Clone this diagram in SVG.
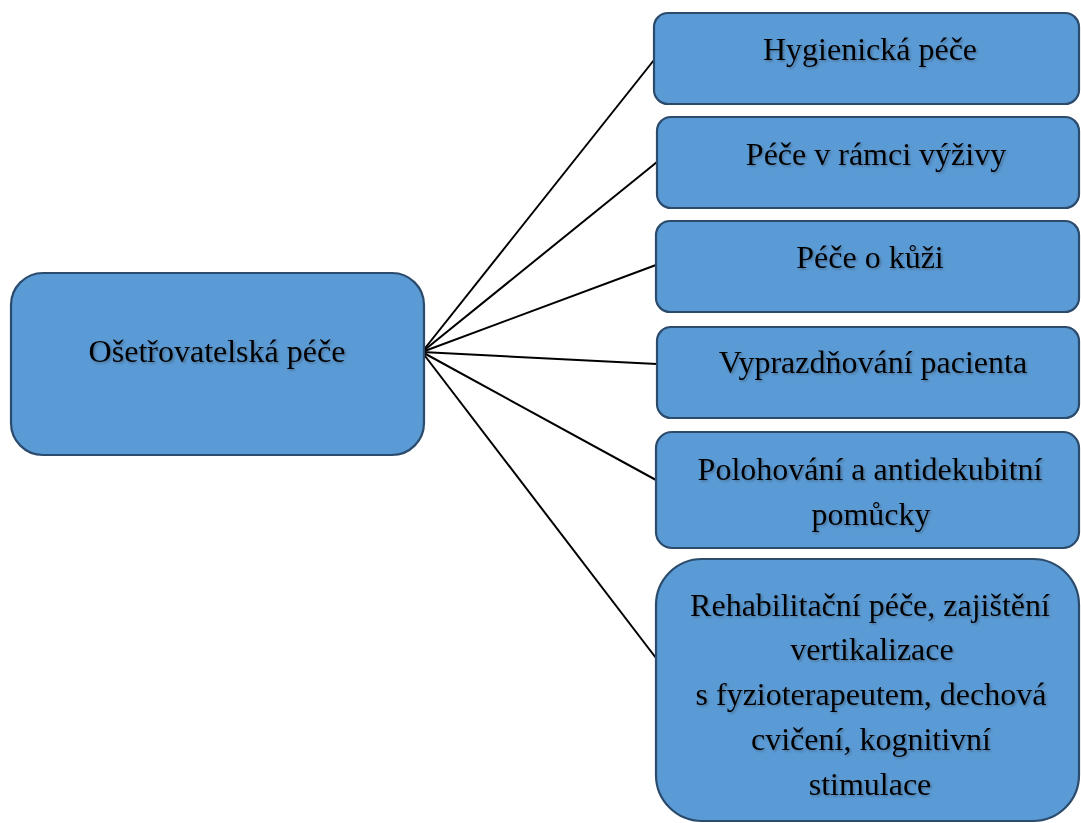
<svg xmlns="http://www.w3.org/2000/svg" width="1081" height="823" viewBox="0 0 1081 823">
<defs>
<style>
.box{fill:#5B9BD5;stroke:#2B4B6C;stroke-width:2.2}
.lbl{font-family:"Liberation Serif","Times New Roman",serif;font-size:32px;fill:#000;text-anchor:middle;filter:url(#sh)}
.con{stroke:#000;stroke-width:2;fill:none}
</style>
<filter id="sh" x="-10%" y="-20%" width="120%" height="150%">
<feDropShadow dx="1.5" dy="1.5" stdDeviation="1" flood-color="#2a3a4a" flood-opacity="0.45"/>
</filter>
</defs>
<rect width="1081" height="823" fill="#fff"/>
<g id="connectors">
<line class="con" x1="422" y1="352" x2="654" y2="60"/>
<line class="con" x1="422" y1="352" x2="657" y2="162"/>
<line class="con" x1="422" y1="352" x2="656" y2="265"/>
<line class="con" x1="422" y1="352" x2="657" y2="364"/>
<line class="con" x1="422" y1="352" x2="656" y2="480"/>
<line class="con" x1="422" y1="352" x2="656" y2="658"/>
</g>
<g id="n0">
<rect class="box" x="11" y="273" width="413" height="182" rx="32" ry="32"/>
<text class="lbl" x="217" y="362">Ošetřovatelská péče</text>
</g>
<g id="n1">
<rect class="box" x="654" y="13" width="425" height="91" rx="14" ry="14"/>
<text class="lbl" x="870" y="60">Hygienická péče</text>
</g>
<g id="n2">
<rect class="box" x="657" y="117" width="422" height="91" rx="14" ry="14"/>
<text class="lbl" x="876" y="165">Péče v rámci výživy</text>
</g>
<g id="n3">
<rect class="box" x="656" y="221" width="423" height="91" rx="14" ry="14"/>
<text class="lbl" x="870" y="268">Péče o kůži</text>
</g>
<g id="n4">
<rect class="box" x="657" y="327" width="422" height="91" rx="14" ry="14"/>
<text class="lbl" x="873" y="373">Vyprazdňování pacienta</text>
</g>
<g id="n5">
<rect class="box" x="656" y="432" width="423" height="116" rx="16" ry="16"/>
<text class="lbl" x="870" y="480">Polohování a antidekubitní</text>
<text class="lbl" x="871" y="525">pomůcky</text>
</g>
<g id="n6">
<rect class="box" x="656" y="559" width="423" height="262" rx="46" ry="46"/>
<text class="lbl" x="870" y="616">Rehabilitační péče, zajištění</text>
<text class="lbl" x="872" y="660">vertikalizace</text>
<text class="lbl" x="871" y="705">s fyzioterapeutem, dechová</text>
<text class="lbl" x="871" y="750">cvičení, kognitivní</text>
<text class="lbl" x="870" y="795">stimulace</text>
</g>
</svg>
